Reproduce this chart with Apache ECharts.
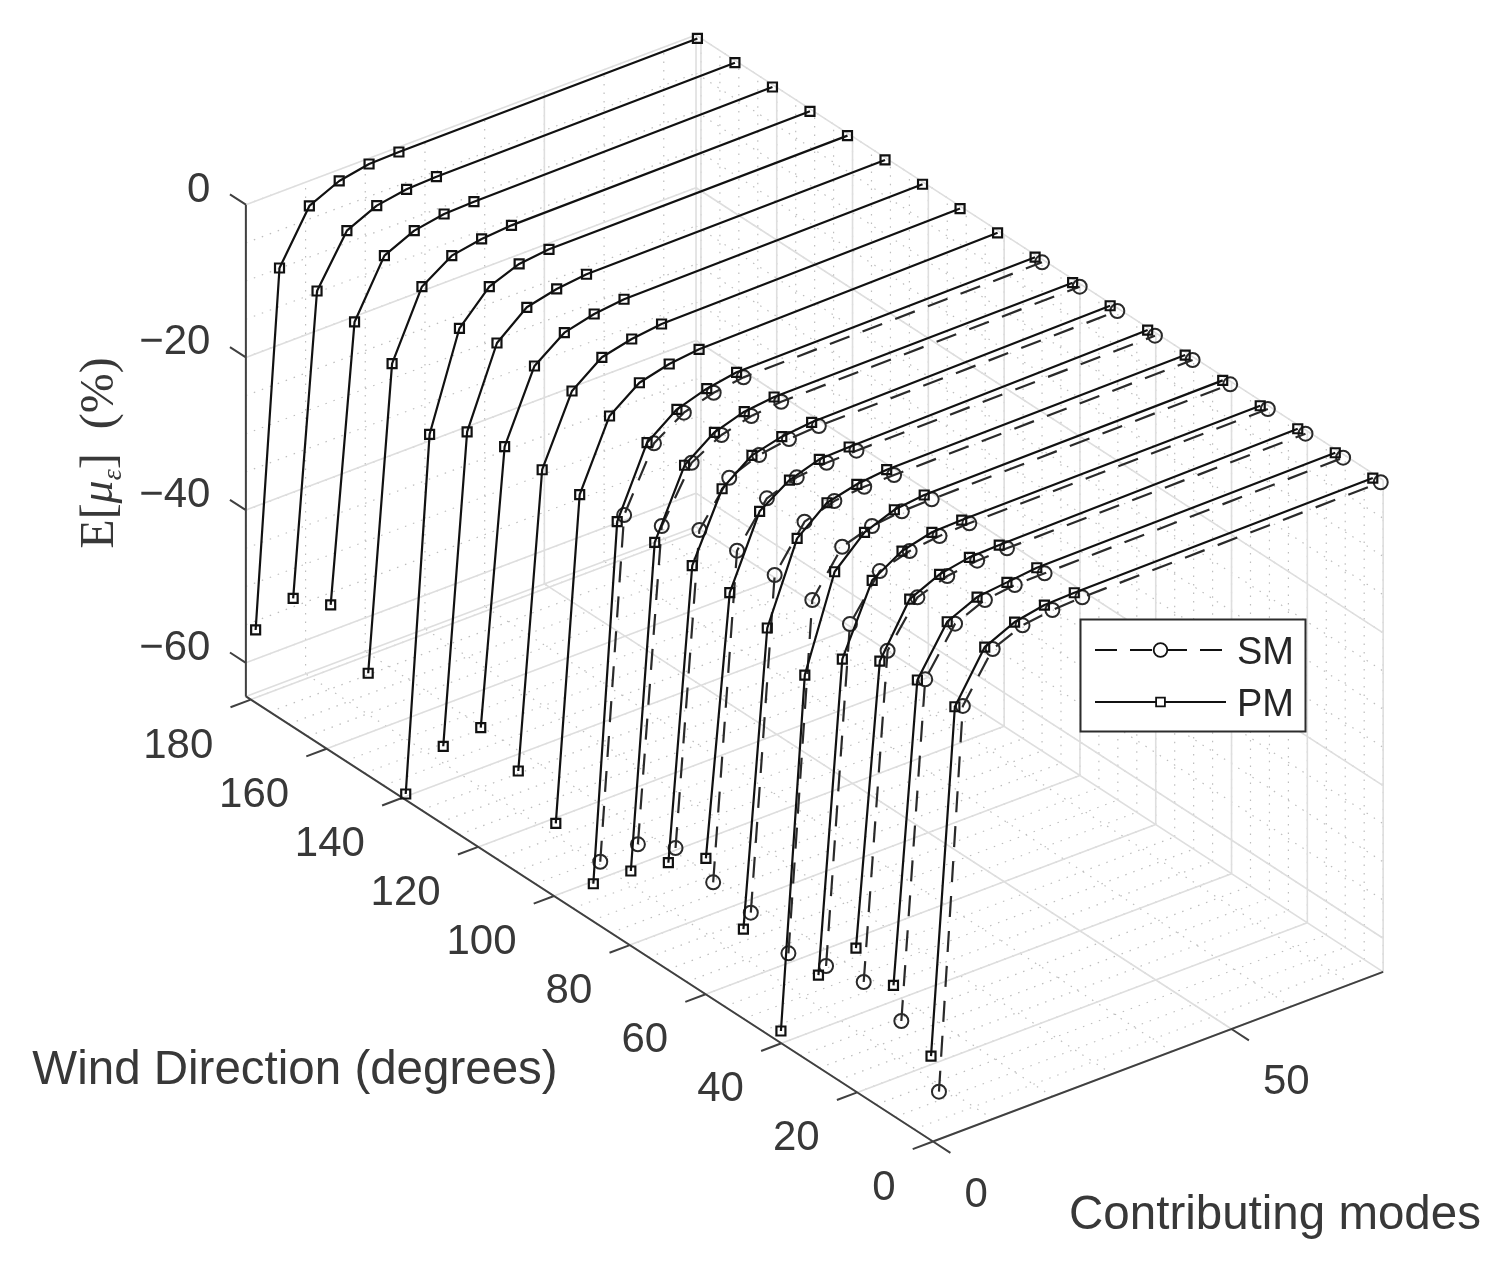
<!DOCTYPE html>
<html>
<head>
<meta charset="utf-8">
<style>
  html, body { margin: 0; padding: 0; background: #fff; }
  #chart { width: 1505px; height: 1268px; }
</style>
<script src="https://cdn.jsdelivr.net/npm/echarts@6/dist/echarts.min.js"></script>
</head>
<body>
<div id="chart"></div>
<script>
// values
const modes = [1, 5, 10, 15, 20, 25, 75];

const smDirections = [0, 9.93, 19.86, 29.79, 39.72, 49.65, 59.58, 69.51, 79.44, 89.37];
const pmDirections = [2.1, 12, 21.9, 31.8, 41.7, 51.6, 61.5, 71.4, 81.3, 91.2, 101.1, 111, 120.9, 130.8, 140.7, 150.6, 160.5, 170.4, 180.3];

const smError = [
  [-58.17, -8.83, -2.84, -1.21, -0.68, -0.49, -0.16],
  [-52.11, -8.53, -2.72, -1.09, -0.60, -0.54, -0.13],
  [-50.19, -7.98, -2.46, -1.14, -0.61, -0.46, -0.18],
  [-51.29, -7.67, -2.21, -1.06, -0.57, -0.38, -0.14],
  [-52.82, -7.72, -2.22, -0.98, -0.53, -0.43, -0.10],
  [-50.69, -7.64, -2.13, -0.90, -0.50, -0.44, -0.11],
  [-49.91, -7.65, -2.26, -0.99, -0.55, -0.45, -0.12],
  [-48.61, -8.13, -2.76, -1.26, -0.64, -0.41, -0.08],
  [-51.32, -10.80, -3.99, -1.83, -0.82, -0.42, -0.09],
  [-56.79, -12.56, -4.64, -2.10, -0.96, -0.42, -0.09]
];

const pmError = [
  [-54.18, -9.61, -3.26, -1.46, -0.71, -0.57, -0.28],
  [-48.10, -9.29, -3.13, -1.37, -0.92, -0.48, -0.15],
  [-46.40, -9.99, -3.34, -1.58, -0.83, -0.69, -0.19],
  [-53.12, -12.91, -4.07, -1.71, -0.73, -0.60, -0.36],
  [-63.63, -18.19, -6.13, -2.44, -0.96, -0.50, -0.22],
  [-53.46, -15.21, -4.94, -1.75, -0.81, -0.37, -0.09],
  [-47.38, -13.77, -4.58, -1.96, -0.72, -0.58, 0],
  [-51.14, -13.42, -4.81, -1.91, -0.94, -0.53, 0],
  [-55.41, -13.54, -4.92, -2.08, -0.85, -0.40, -0.16],
  [-60.26, -14.02, -5.15, -2.25, -1.02, -0.35, 0],
  [-55.53, -13.67, -4.83, -1.95, -0.97, -0.52, 0],
  [-51.86, -13.58, -4.74, -1.80, -0.88, -0.39, 0],
  [-49.37, -13.75, -4.65, -1.76, -0.79, -0.33, 0],
  [-54.99, -15.00, -4.82, -1.62, -0.69, -0.24, 0],
  [-64.42, -18.49, -6.08, -2.10, -0.60, -0.15, 0],
  [-51.79, -12.42, -3.81, -1.22, -0.51, -0.20, 0],
  [-46.03, -10.14, -2.93, -1.13, -0.42, -0.28, 0],
  [-48.34, -9.27, -2.84, -1.04, -0.37, -0.19, 0],
  [-55.67, -9.44, -2.79, -0.99, -0.24, -0.14, 0]
];

// axis ticks
const modeTicks = [0, 50];
const modeMinor = [0, 10, 20, 30, 40, 50, 60, 70];
const directionTicks = [0, 20, 40, 60, 80, 100, 120, 140, 160, 180];
const directionMinor = [0, 5, 10, 15, 20, 25, 30, 35, 40, 45, 50, 55, 60, 65, 70, 75, 80, 85, 90, 95, 100, 105, 110, 115, 120, 125, 130, 135, 140, 145, 150, 155, 160, 165, 170, 175, 180];
const errorTicks = [0, -20, -40, -60];
const errorMinor = [0, -5, -10, -15, -20, -25, -30, -35, -40, -45, -50, -55, -60];
const errorTickLabels = ['0', '\u221220', '\u221240', '\u221260'];

const modeMax = 75.4;
const directionMax = 181.3;
const errorMin = -64.4;

// oblique view of the 3D box, same as the matlab plot3 camera
function project(m, d, e) {
  return [933 + 5.97 * m - 3.79 * d, 649.8 - 2.25 * m - 2.455 * d - 7.635 * e];
}

const TEXT = '#383838';
const FONT = '"Liberation Sans", Arial, sans-serif';

// list of 3D segments -> one broken line
function segments(list) {
  const out = [];
  list.forEach(([a, b]) => {
    out.push(project(...a), project(...b), [NaN, NaN]);
  });
  return out;
}

function plainLine(list, color, width, type) {
  return {
    type: 'line',
    data: segments(list),
    showSymbol: false,
    symbol: 'none',
    silent: true,
    clip: false,
    z: 1,
    lineStyle: { color: color, width: width, type: type || 'solid' }
  };
}

function textSeries(items, align, dx, dy) {
  return {
    type: 'scatter',
    symbolSize: 1,
    itemStyle: { color: 'transparent', opacity: 1 },
    silent: true,
    z: 3,
    data: items,
    label: {
      show: true,
      position: [0, 0],
      formatter: '{b}',
      align: align,
      verticalAlign: 'middle',
      offset: [dx, dy],
      color: TEXT,
      fontSize: 42,
      fontFamily: FONT
    }
  };
}

// grid on floor and both back walls
const majorGrid = [];
const minorGrid = [];
modeTicks.forEach(m => {
  majorGrid.push([[m, 0, errorMin], [m, directionMax, errorMin]]);
  majorGrid.push([[m, directionMax, errorMin], [m, directionMax, 0]]);
});
directionTicks.forEach(d => {
  majorGrid.push([[0, d, errorMin], [modeMax, d, errorMin]]);
  majorGrid.push([[modeMax, d, errorMin], [modeMax, d, 0]]);
});
errorTicks.forEach(e => {
  majorGrid.push([[0, directionMax, e], [modeMax, directionMax, e]]);
  majorGrid.push([[modeMax, directionMax, e], [modeMax, 0, e]]);
});
majorGrid.push([[modeMax, directionMax, errorMin], [modeMax, directionMax, 0]]);
majorGrid.push([[0, directionMax, errorMin], [modeMax, directionMax, errorMin]]);
majorGrid.push([[modeMax, directionMax, errorMin], [modeMax, 0, errorMin]]);

modeMinor.forEach(m => {
  minorGrid.push([[m, 0, errorMin], [m, directionMax, errorMin]]);
  minorGrid.push([[m, directionMax, errorMin], [m, directionMax, 0]]);
});
directionMinor.forEach(d => {
  minorGrid.push([[0, d, errorMin], [modeMax, d, errorMin]]);
  minorGrid.push([[modeMax, d, errorMin], [modeMax, d, 0]]);
});
errorMinor.forEach(e => {
  minorGrid.push([[0, directionMax, e], [modeMax, directionMax, e]]);
  minorGrid.push([[modeMax, directionMax, e], [modeMax, 0, e]]);
});

// dark box edges and tick marks
const axisLines = [
  [[0, directionMax, errorMin], [0, directionMax, 0]],
  [[0, directionMax, errorMin], [0, 0, errorMin]],
  [[0, 0, errorMin], [modeMax, 0, errorMin]]
];
errorTicks.forEach(e => axisLines.push([[0, directionMax, e], [0, directionMax + 4.2, e]]));
directionTicks.forEach(d => axisLines.push([[0, d, errorMin], [-3.4, d, errorMin]]));
modeTicks.forEach(m => axisLines.push([[m, 0, errorMin], [m, -4.6, errorMin]]));

function curve(name, direction, values) {
  const dashed = name === 'SM';
  return {
    name: name,
    type: 'line',
    z: dashed ? 4 : 5,
    silent: true,
    clip: false,
    data: values.map((v, i) => project(modes[i], direction, v)),
    symbol: dashed ? 'circle' : 'rect',
    symbolSize: dashed ? 14 : 9,
    showSymbol: true,
    showAllSymbol: true,
    itemStyle: { color: 'transparent', borderColor: dashed ? '#2a2a2a' : '#111', borderWidth: dashed ? 2 : 2.2 },
    lineStyle: { color: dashed ? '#2a2a2a' : '#111', width: dashed ? 2.2 : 2.2, type: dashed ? [21, 14] : 'solid' }
  };
}

const series = [
  plainLine(minorGrid, '#bdbdbd', 1.2, [1.5, 7]),
  plainLine(majorGrid, '#dedede', 1.6),
  plainLine(axisLines, '#404040', 2),
  textSeries(errorTicks.map((e, i) => ({ name: errorTickLabels[i], value: project(0, directionMax, e) })), 'right', -35, -14),
  textSeries(directionTicks.map(d => ({ name: String(d), value: project(0, d, errorMin) })), 'right', -37, 47),
  textSeries(modeTicks.map(m => ({ name: String(m), value: project(m, 0, errorMin) })), 'left', 32, 54)
];
smDirections.forEach((d, i) => series.push(curve('SM', d, smError[i])));
pmDirections.forEach((d, i) => series.push(curve('PM', d, pmError[i])));

function legendRow(name, top, height, dashed) {
  return {
    data: [name],
    orient: 'vertical',
    left: 1094,
    top: top,
    padding: 0,
    itemWidth: 131,
    itemHeight: height,
    selectedMode: false,
    z: 8,
    formatter: '{t|{name}}',
    itemStyle: { color: '#fff', borderColor: '#111', borderWidth: 1.8 },
    lineStyle: { color: '#111', width: 2, type: dashed ? [22, 13] : 'solid' },
    textStyle: {
      color: '#262626',
      rich: { t: { fontSize: 38, fontFamily: FONT, color: '#262626', padding: [8, 0, 0, 6] } }
    }
  };
}

const chart = echarts.init(document.getElementById('chart'), null, { renderer: 'canvas' });
chart.setOption({
  animation: false,
  backgroundColor: '#fff',
  grid: { left: 0, right: 0, top: 0, bottom: 0 },
  xAxis: { type: 'value', min: 0, max: 1505, show: false },
  yAxis: { type: 'value', min: 0, max: 1268, inverse: true, show: false },
  legend: [legendRow('SM', 635, 17, true), legendRow('PM', 687, 11, false)],
  graphic: [
    {
      type: 'rect',
      z: 7,
      shape: { x: 1080.5, y: 619.5, width: 225, height: 112 },
      style: { fill: '#fff', stroke: '#2c2c2c', lineWidth: 2 }
    },
    {
      type: 'text',
      z: 7,
      x: 295,
      y: 1071,
      style: { text: 'Wind Direction (degrees)', fill: TEXT, fontSize: 47.5, fontFamily: FONT, align: 'center', verticalAlign: 'middle' }
    },
    {
      type: 'text',
      z: 7,
      x: 1275,
      y: 1216,
      style: { text: 'Contributing modes', fill: TEXT, fontSize: 47.5, fontFamily: FONT, align: 'center', verticalAlign: 'middle' }
    },
    {
      type: 'text',
      z: 7,
      x: 100,
      y: 453,
      rotation: Math.PI / 2,
      style: {
        text: '{e|E[}{m|\u03bc}{s|\u03b5}{e|]  (%)}',
        fill: TEXT,
        align: 'center',
        verticalAlign: 'middle',
        rich: {
          e: { fontSize: 48, fontFamily: '"Liberation Serif", serif', fill: TEXT, lineHeight: 56 },
          m: { fontSize: 46, fontFamily: '"Liberation Serif", serif', fontStyle: 'italic', fill: TEXT, lineHeight: 56 },
          s: { fontSize: 28, fontFamily: '"Liberation Serif", serif', fontStyle: 'italic', fill: TEXT, verticalAlign: 'bottom', lineHeight: 44 }
        }
      }
    }
  ],
  series: series
});
</script>
</body>
</html>
